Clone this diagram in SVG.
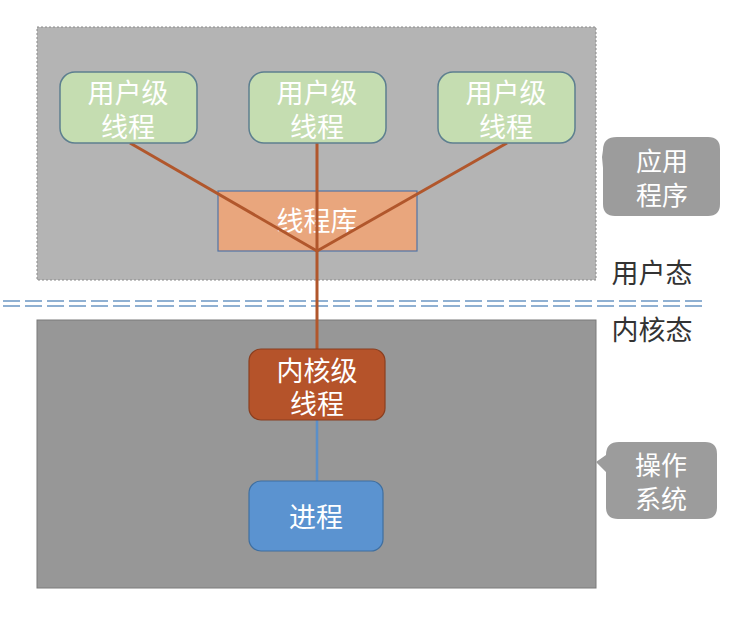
<svg xmlns="http://www.w3.org/2000/svg" width="739" height="627" viewBox="0 0 739 627">
<style>
text{font-family:"Noto Sans CJK SC","Noto Sans CJK JP",sans-serif;text-anchor:middle}
.w{fill:#ffffff;font-size:27px}
.c{fill:#ffffff;font-size:26px}
.lbl{fill:#333333;font-size:27px}
.user{fill:#c5ddb1;stroke:#5d7f8f;stroke-width:1.5}
.call{fill:#9c9c9c}
.ln{stroke:#b1572c;stroke-width:3;fill:none}
</style>
<rect width="739" height="627" fill="#ffffff"/>
<g id="app-area"><rect x="37" y="27" width="559" height="253" fill="#b4b4b4" stroke="#8a8a8a" stroke-width="1" stroke-dasharray="2 2"/></g>
<g id="os-area"><rect x="37" y="320" width="559" height="268" fill="#979797" stroke="#7a7a7a" stroke-width="1"/></g>
<g id="divider">
<line x1="3" y1="301" x2="705" y2="301" stroke="#8fb0d2" stroke-width="2" stroke-dasharray="17 5"/>
<line x1="3" y1="306" x2="705" y2="306" stroke="#8fb0d2" stroke-width="2" stroke-dasharray="17 5"/>
</g>
<g id="lib"><rect x="218" y="191" width="199" height="60" fill="#e9a67d" stroke="#5274a6" stroke-width="1.2"/><text class="w" x="317" y="231" font-size="28">线程库</text></g>
<g id="connectors">
<line class="ln" x1="130" y1="143" x2="317" y2="251"/>
<line class="ln" x1="507" y1="143" x2="317" y2="251"/>
<line class="ln" x1="317" y1="143" x2="317" y2="349"/>
<line x1="317" y1="420" x2="317" y2="481" stroke="#5b8fc8" stroke-width="2.5"/>
</g>
<g id="u1"><rect class="user" x="60" y="72" width="137" height="71" rx="15"/><text class="w" x="128" y="103">用户级<tspan x="128" dy="34">线程</tspan></text></g>
<g id="u2"><rect class="user" x="249" y="72" width="137" height="71" rx="15"/><text class="w" x="317" y="103">用户级<tspan x="317" dy="34">线程</tspan></text></g>
<g id="u3"><rect class="user" x="438" y="72" width="137" height="71" rx="15"/><text class="w" x="506" y="103">用户级<tspan x="506" dy="34">线程</tspan></text></g>
<g id="kt"><rect x="249" y="349" width="136" height="71" rx="12" fill="#b5532a" stroke="#8a3f20" stroke-width="1.2"/><text class="w" x="317" y="381">内核级<tspan x="317" dy="33">线程</tspan></text></g>
<g id="proc"><rect x="249" y="481" width="134" height="70" rx="12" fill="#5b93d0" stroke="#3f6fa0" stroke-width="1.2"/><text class="w" x="316" y="527" font-size="29">进程</text></g>
<g id="lbl-user"><text class="lbl" x="652" y="283">用户态</text></g>
<g id="lbl-kernel"><text class="lbl" x="652" y="340">内核态</text></g>
<g id="c-app"><path class="call" d="M617,137 H708 Q720,137 720,149 V204 Q720,216 708,216 H615 Q603,216 603,204 V168 L602,157 L603,150 Q603,137 617,137 Z"/><text class="c" x="662" y="171">应用<tspan x="662" dy="34">程序</tspan></text></g>
<g id="c-os"><path class="call" d="M619,442 H705 Q717,442 717,454 V507 Q717,519 705,519 H618 Q606,519 606,507 V472 L596,462 L606,455 Q606,442 619,442 Z"/><text class="c" x="661" y="475">操作<tspan x="661" dy="34">系统</tspan></text></g>
</svg>
